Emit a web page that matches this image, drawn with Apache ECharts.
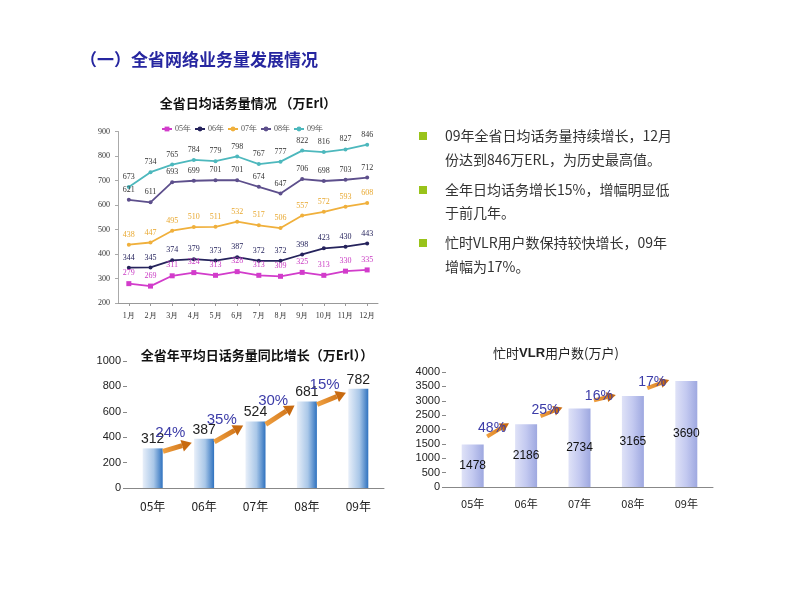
<!DOCTYPE html>
<html><head><meta charset="utf-8">
<script src="https://cdn.jsdelivr.net/npm/echarts@6/dist/echarts.min.js"></script>
<style>html,body{margin:0;padding:0;background:#fff}#c{width:800px;height:600px}</style>
</head><body><div id="c"></div>
<script>
const months = ['1月','2月','3月','4月','5月','6月','7月','8月','9月','10月','11月','12月'];
const lineNames = ['05年','06年','07年','08年','09年'];
const v05 = [279,269,311,324,313,328,313,309,325,313,330,335];
const v06 = [344,345,374,379,373,387,372,372,398,423,430,443];
const v07 = [438,447,495,510,511,532,517,506,557,572,593,608];
const v08 = [621,611,693,699,701,701,674,647,706,698,703,712];
const v09 = [673,734,765,784,779,798,767,777,822,816,827,846];
const lineTicks = [200, 900, 100];

const years = ['05年','06年','07年','08年','09年'];
const avgTraffic = [312,387,524,681,782];
const trafficGrowth = ['24%','35%','30%','15%'];
const vlrUsers = [1478,2186,2734,3165,3690];
const vlrGrowth = ['48%','25%','16%','17%'];

const bulletLines = [
  ['09年全省日均话务量持续增长，12月','份达到846万ERL，为历史最高值。'],
  ['全年日均话务增长15%，增幅明显低','于前几年。'],
  ['忙时VLR用户数保持较快增长，09年','增幅为17%。']
];

const CJK = '"Noto Sans CJK SC", "Noto Sans", sans-serif';
const chart = echarts.init(document.getElementById('c'), null, {renderer:'canvas'});

const lineColors = ['#d23ccb','#25235c','#f0b03c','#5d4f8c','#4db8bd'];
const lineLabelColors = ['#c93ac3','#25235c','#e8a830','#333','#333'];
const lineData = [v05,v06,v07,v08,v09];
const plain = v => String(v);

function arrowRender(values, labels, o) {
  return function(params, api) {
    const i = api.value(0);
    const band = api.size([1,0])[0];
    const a = api.coord([i, values[i]]);
    const b = api.coord([i+1, values[i+1]]);
    const x1 = a[0] + o.f0*band, y1 = a[1] + o.dy0;
    const x2 = a[0] + o.f1*band, y2 = b[1] + o.dy1;
    const dx = x2-x1, dy = y2-y1, L = Math.sqrt(dx*dx+dy*dy);
    const ux = dx/L, uy = dy/L, nx = -uy, ny = ux;
    const hl = o.hl, hw = o.hw;
    const bx = x2 - ux*hl, by = y2 - uy*hl;
    const grad = new echarts.graphic.LinearGradient(x1,y1,x2,y2,[{offset:0,color:'#f0a040'},{offset:1,color:'#c86a10'}],true);
    const mx = (x1+x2)/2, my = (y1+y2)/2;
    return {type:'group', children:[
      {type:'line', shape:{x1:x1,y1:y1,x2:bx,y2:by}, style:{stroke:grad, lineWidth:o.lw}},
      {type:'polygon', shape:{points:[[x2,y2],[bx+nx*hw/2,by+ny*hw/2],[bx-nx*hw/2,by-ny*hw/2]]}, style:{fill:'#c86a10'}},
      {type:'text', z2:10, style:{text:labels[i], x:mx+o.lx, y:my+o.ly, align:'center', verticalAlign:'middle', fill:o.lc, font:o.font}}
    ]};
  };
}

const graphics = [
  {type:'text', style:{text:'（一）全省网络业务量发展情况', x:80, y:60, verticalAlign:'middle', fill:'#2626a0', font:'bold 17px '+CJK}},
  {type:'text', style:{text:'全省日均话务量情况 （万Erl）', x:248, y:103, align:'center', verticalAlign:'middle', fill:'#111', font:'bold 13px '+CJK}},
  {type:'text', style:{text:'全省年平均日话务量同比增长（万Erl））', x:257, y:355, align:'center', verticalAlign:'middle', fill:'#111', font:'bold 13px '+CJK}},
  {type:'text', style:{text:'{a|忙时}{b|VLR}{a|用户数(万户)}', x:556, y:353, align:'center', verticalAlign:'middle',
    rich:{a:{fontSize:13, fontFamily:CJK, fill:'#222'}, b:{fontSize:13, fontWeight:'bold', fontFamily:'Arial, Liberation Sans', fill:'#222'}}}}
];
const lineYs = [[136,160],[190,213],[243,267]];
bulletLines.forEach((ls,k)=>{
  graphics.push({type:'rect', shape:{x:419, y:lineYs[k][0]-4, width:8, height:8}, style:{fill:'#99c31a'}});
  ls.forEach((t,j)=>{
    graphics.push({type:'text', style:{text:t, x:445, y:lineYs[k][j], verticalAlign:'middle', fill:'#333', font:'14px '+CJK}});
  });
});

const option = {
  animation:false,
  backgroundColor:'#fff',
  graphic: graphics,
  legend:{ left:156, top:120, itemWidth:10, itemHeight:6, itemGap:3, data:lineNames,
    textStyle:{fontSize:8, fontFamily:'"Liberation Serif", serif', color:'#555', padding:[0,0,0,-2]} },
  grid:[
    {left:118, top:131.5, width:260, height:171.5, containLabel:false},
    {left:127, top:361, width:257, height:127},
    {left:446, top:372, width:267, height:115}
  ],
  xAxis:[
    {gridIndex:0, type:'category', data:months, boundaryGap:true,
      axisLine:{lineStyle:{color:'#999'}}, axisTick:{show:true, alignWithLabel:true, length:3, lineStyle:{color:'#999'}},
      axisLabel:{fontSize:8, color:'#333', fontFamily:'"Liberation Serif", serif', margin:9, interval:0}},
    {gridIndex:1, type:'category', data:years,
      axisLine:{lineStyle:{color:'#888'}}, axisTick:{show:false},
      axisLabel:{fontSize:12, color:'#222', fontFamily:CJK, margin:12}},
    {gridIndex:2, type:'category', data:years,
      axisLine:{lineStyle:{color:'#888'}}, axisTick:{show:false},
      axisLabel:{fontSize:11, color:'#222', fontFamily:CJK, margin:11}}
  ],
  yAxis:[
    {gridIndex:0, type:'value', min:lineTicks[0], max:lineTicks[1], interval:lineTicks[2],
      axisLine:{show:true, lineStyle:{color:'#aaa'}}, axisTick:{show:true, length:3, lineStyle:{color:'#aaa'}}, splitLine:{show:false},
      axisLabel:{fontSize:8, color:'#333', fontFamily:'"Liberation Serif", serif', margin:8, formatter:plain}},
    {gridIndex:1, type:'value', min:0, max:1000, interval:200,
      axisLine:{show:false}, axisTick:{show:true, length:4, lineStyle:{color:'#888'}}, splitLine:{show:false},
      axisLabel:{fontSize:11, color:'#222', fontFamily:'Arial, "Liberation Sans"', margin:6, formatter:plain}},
    {gridIndex:2, type:'value', min:0, max:4000, interval:500,
      axisLine:{show:false}, axisTick:{show:true, length:4, lineStyle:{color:'#888'}}, splitLine:{show:false},
      axisLabel:{fontSize:11, color:'#222', fontFamily:'Arial, "Liberation Sans"', margin:6, formatter:plain}}
  ],
  series:[
    ...lineNames.map((n,k)=>({
      name:n, type:'line', xAxisIndex:0, yAxisIndex:0, data:lineData[k],
      symbol: k===0 ? 'rect':'circle', symbolSize: k===0 ? 5 : 4,
      itemStyle:{color:lineColors[k]}, lineStyle:{width:1.8, color:lineColors[k]},
      label:{show:true, position:'top', distance:4, fontSize:8, color:lineLabelColors[k], fontFamily:'"Liberation Serif", serif'}
    })),
    {type:'bar', xAxisIndex:1, yAxisIndex:1, data:avgTraffic, barWidth:20,
      itemStyle:{color:new echarts.graphic.LinearGradient(0,0,1,0,[{offset:0,color:'#e8eff9'},{offset:0.55,color:'#a9c7e8'},{offset:1,color:'#2f72bf'}])},
      label:{show:true, position:'top', distance:2, fontSize:14, color:'#222', fontFamily:'Arial, "Liberation Sans"'}},
    {type:'custom', xAxisIndex:1, yAxisIndex:1, z:5, data:trafficGrowth.map((g,i)=>[i, avgTraffic[i]]), encode:{x:0,y:1},
      renderItem: arrowRender(avgTraffic, trafficGrowth, {f0:0.2, f1:0.76, dy0:3, dy1:4, lw:5, hl:10, hw:12, lx:-7, ly:-14, lc:'#3c3ca8', font:'15px Arial, "Liberation Sans"'})},
    {type:'bar', xAxisIndex:2, yAxisIndex:2, data:vlrUsers, barWidth:22,
      itemStyle:{color:new echarts.graphic.LinearGradient(0,0,1,0,[{offset:0,color:'#dfe2f7'},{offset:0.5,color:'#c3c9f0'},{offset:1,color:'#9ea8e0'}])},
      label:{show:true, position:'inside', fontSize:12, color:'#111', fontFamily:'Arial, "Liberation Sans"'}},
    {type:'custom', xAxisIndex:2, yAxisIndex:2, z:5, data:vlrGrowth.map((g,i)=>[i, vlrUsers[i]]), encode:{x:0,y:1},
      renderItem: arrowRender(vlrUsers, vlrGrowth, {f0:0.27, f1:0.68, dy0:-8, dy1:-1, lw:4, hl:9, hw:10, lx:-6, ly:-2, lc:'#3c3ca8', font:'14px Arial, "Liberation Sans"'})}
  ]
};
chart.setOption(option);
</script></body></html>
